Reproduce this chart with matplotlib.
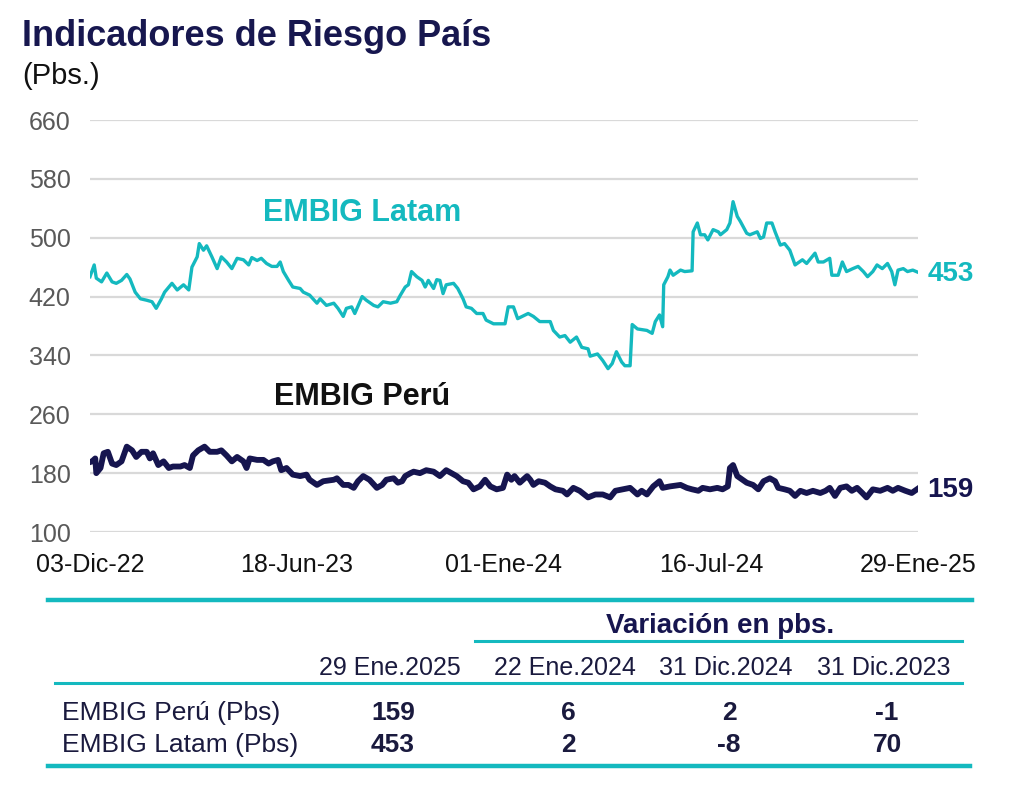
import pandas as pd
import matplotlib
matplotlib.use('Agg')
import matplotlib.pyplot as plt
from matplotlib.lines import Line2D

TEAL = '#14B9BF'
NAVY = '#16154F'
GRID = '#d9d9d9'
NARROW = ['Liberation Sans Narrow', 'DejaVu Sans Condensed', 'Liberation Sans']
REGULAR = ['Liberation Sans', 'DejaVu Sans']

# EMBIG Latam (pbs)
latam_dates = ['2022-12-03', '2022-12-07', '2022-12-09', '2022-12-14', '2022-12-19', '2022-12-24',
               '2022-12-28', '2023-01-02', '2023-01-07', '2023-01-10', '2023-01-15', '2023-01-20',
               '2023-01-26', '2023-01-31', '2023-02-04', '2023-02-09', '2023-02-12', '2023-02-19',
               '2023-02-24', '2023-03-02', '2023-03-07', '2023-03-10', '2023-03-15', '2023-03-17',
               '2023-03-21', '2023-03-24', '2023-03-29', '2023-04-03', '2023-04-07', '2023-04-12',
               '2023-04-17', '2023-04-22', '2023-04-28', '2023-05-03', '2023-05-06', '2023-05-11',
               '2023-05-15', '2023-05-20', '2023-05-25', '2023-05-30', '2023-06-02', '2023-06-05',
               '2023-06-10', '2023-06-14', '2023-06-21', '2023-06-24', '2023-06-30', '2023-07-07',
               '2023-07-10', '2023-07-16', '2023-07-23', '2023-07-27', '2023-08-01', '2023-08-04',
               '2023-08-09', '2023-08-12', '2023-08-19', '2023-08-23', '2023-08-30', '2023-09-03',
               '2023-09-08', '2023-09-15', '2023-09-21', '2023-09-24', '2023-09-29', '2023-10-02',
               '2023-10-05', '2023-10-10', '2023-10-15', '2023-10-18', '2023-10-21', '2023-10-26',
               '2023-10-29', '2023-11-01', '2023-11-04', '2023-11-07', '2023-11-14', '2023-11-18',
               '2023-11-23', '2023-11-26', '2023-12-01', '2023-12-06', '2023-12-12', '2023-12-15',
               '2023-12-22', '2023-12-28', '2024-01-02', '2024-01-05', '2024-01-10', '2024-01-14',
               '2024-01-24', '2024-01-29', '2024-02-04', '2024-02-14', '2024-02-17', '2024-02-23',
               '2024-02-28', '2024-03-04', '2024-03-10', '2024-03-15', '2024-03-21', '2024-03-23',
               '2024-03-30', '2024-04-04', '2024-04-09', '2024-04-13', '2024-04-17', '2024-04-22',
               '2024-04-25', '2024-04-30', '2024-05-02', '2024-05-07', '2024-05-16', '2024-05-21',
               '2024-05-24', '2024-05-28', '2024-05-31', '2024-06-01', '2024-06-05', '2024-06-07',
               '2024-06-10', '2024-06-17', '2024-06-21', '2024-06-28', '2024-06-29', '2024-07-03',
               '2024-07-06', '2024-07-10', '2024-07-13', '2024-07-18', '2024-07-23', '2024-07-25',
               '2024-07-31', '2024-08-03', '2024-08-06', '2024-08-10', '2024-08-13', '2024-08-19',
               '2024-08-22', '2024-08-29', '2024-09-01', '2024-09-04', '2024-09-07', '2024-09-12',
               '2024-09-15', '2024-09-20', '2024-09-24', '2024-09-29', '2024-10-04', '2024-10-11',
               '2024-10-15', '2024-10-23', '2024-10-26', '2024-10-31', '2024-11-06', '2024-11-08',
               '2024-11-14', '2024-11-18', '2024-11-22', '2024-11-28', '2024-12-03', '2024-12-08',
               '2024-12-12', '2024-12-17', '2024-12-21', '2024-12-26', '2024-12-31', '2025-01-04',
               '2025-01-07', '2025-01-10', '2025-01-15', '2025-01-19', '2025-01-24', '2025-01-29']
latam_vals = [447, 463, 445, 440, 452, 440,
              438, 442, 450, 444, 426, 417,
              415, 413, 404, 417, 426, 438,
              429, 436, 429, 460, 474, 492,
              483, 489, 474, 458, 474, 467,
              458, 472, 470, 463, 473, 469,
              472, 465, 461, 461, 467, 454,
              442, 433, 431, 426, 422, 411,
              417, 408, 411, 404, 393, 404,
              406, 397, 420, 415, 408, 406,
              413, 411, 413, 421, 433, 436,
              454, 447, 442, 433, 442, 431,
              443, 442, 424, 436, 438, 431,
              417, 406, 404, 397, 397, 388,
              383, 383, 383, 406, 406, 390,
              397, 393, 386, 386, 374, 365,
              367, 358, 365, 351, 349, 339,
              342, 333, 322, 329, 345, 331,
              326, 326, 382, 376, 374, 370,
              386, 395, 379, 436, 447, 456,
              449, 456, 454, 455, 508, 520,
              504, 504, 497, 511, 508, 504,
              511, 520, 549, 529, 522, 506,
              504, 508, 499, 501, 520, 520,
              508, 490, 492, 483, 463, 470,
              465, 479, 467, 467, 472, 449,
              449, 467, 454, 458, 461, 454,
              447, 454, 463, 458, 465, 454,
              436, 456, 458, 454, 456, 453]

# EMBIG Perú (pbs)
peru_dates = ['2022-12-03', '2022-12-05', '2022-12-08', '2022-12-09', '2022-12-13', '2022-12-16',
              '2022-12-20', '2022-12-24', '2022-12-28', '2023-01-02', '2023-01-07', '2023-01-12',
              '2023-01-16', '2023-01-21', '2023-01-26', '2023-01-29', '2023-02-01', '2023-02-06',
              '2023-02-11', '2023-02-16', '2023-02-20', '2023-02-27', '2023-03-03', '2023-03-08',
              '2023-03-11', '2023-03-16', '2023-03-22', '2023-03-27', '2023-04-03', '2023-04-07',
              '2023-04-12', '2023-04-17', '2023-04-22', '2023-04-28', '2023-05-01', '2023-05-04',
              '2023-05-11', '2023-05-17', '2023-05-22', '2023-05-26', '2023-05-31', '2023-06-03',
              '2023-06-08', '2023-06-14', '2023-06-21', '2023-06-27', '2023-06-30', '2023-07-07',
              '2023-07-13', '2023-07-23', '2023-07-26', '2023-08-01', '2023-08-06', '2023-08-11',
              '2023-08-15', '2023-08-20', '2023-08-26', '2023-09-02', '2023-09-07', '2023-09-11',
              '2023-09-18', '2023-09-22', '2023-09-26', '2023-09-29', '2023-10-04', '2023-10-07',
              '2023-10-13', '2023-10-19', '2023-10-26', '2023-11-01', '2023-11-07', '2023-11-12',
              '2023-11-17', '2023-11-23', '2023-11-28', '2023-12-03', '2023-12-09', '2023-12-14',
              '2023-12-19', '2023-12-25', '2023-12-31', '2024-01-04', '2024-01-08', '2024-01-11',
              '2024-01-16', '2024-01-23', '2024-01-26', '2024-01-29', '2024-02-03', '2024-02-09',
              '2024-02-14', '2024-02-19', '2024-02-26', '2024-03-01', '2024-03-07', '2024-03-13',
              '2024-03-21', '2024-03-28', '2024-04-04', '2024-04-11', '2024-04-16', '2024-04-23',
              '2024-04-30', '2024-05-07', '2024-05-11', '2024-05-16', '2024-05-22', '2024-05-28',
              '2024-05-31', '2024-06-07', '2024-06-17', '2024-06-23', '2024-06-28', '2024-07-04',
              '2024-07-08', '2024-07-15', '2024-07-22', '2024-07-27', '2024-08-01', '2024-08-03',
              '2024-08-06', '2024-08-10', '2024-08-15', '2024-08-19', '2024-08-25', '2024-08-30',
              '2024-09-04', '2024-09-10', '2024-09-15', '2024-09-18', '2024-09-24', '2024-09-29',
              '2024-10-04', '2024-10-09', '2024-10-15', '2024-10-21', '2024-10-28', '2024-11-02',
              '2024-11-06', '2024-11-11', '2024-11-16', '2024-11-22', '2024-11-27', '2024-12-02',
              '2024-12-07', '2024-12-11', '2024-12-17', '2024-12-24', '2024-12-31', '2025-01-05',
              '2025-01-10', '2025-01-17', '2025-01-23', '2025-01-29']
peru_vals = [195, 196, 200, 180, 187, 207,
             209, 193, 191, 196, 216, 211,
             202, 209, 209, 200, 207, 191,
             196, 187, 189, 189, 191, 187,
             204, 211, 216, 209, 209, 211,
             204, 196, 202, 196, 187, 200,
             198, 198, 193, 196, 198, 184,
             187, 178, 176, 178, 171, 164,
             169, 171, 173, 164, 164, 160,
             169, 176, 171, 160, 164, 171,
             173, 167, 169, 176, 180, 182,
             180, 184, 182, 176, 184, 180,
             176, 169, 167, 158, 162, 171,
             162, 158, 160, 178, 171, 176,
             167, 176, 171, 164, 169, 167,
             162, 158, 156, 151, 160, 156,
             147, 151, 151, 147, 156, 158,
             160, 151, 156, 151, 162, 169,
             160, 162, 164, 160, 158, 156,
             160, 158, 160, 158, 162, 187,
             191, 176, 171, 167, 164, 158,
             169, 173, 169, 160, 158, 156,
             149, 156, 153, 156, 153, 156,
             160, 149, 160, 162, 156, 160,
             153, 147, 158, 156, 160, 156,
             160, 156, 153, 159]

tick_dates = ['2022-12-03', '2023-06-18', '2024-01-01', '2024-07-16', '2025-01-29']
tick_labels = ['03-Dic-22', '18-Jun-23', '01-Ene-24', '16-Jul-24', '29-Ene-25']
y_ticks = [100, 180, 260, 340, 420, 500, 580, 660]

# table under the chart
table_cols = ['29 Ene.2025', '22 Ene.2024', '31 Dic.2024', '31 Dic.2023']
table_rows = ['EMBIG Perú (Pbs)', 'EMBIG Latam (Pbs)']
peru_row = [159, 6, 2, -1]
latam_row = [453, 2, -8, 70]


def main():
    W, H = 1023, 794
    fig = plt.figure(figsize=(W / 100, H / 100), dpi=100)

    ax = fig.add_axes([90 / W, 1 - 532 / H, 828 / W, 412 / H])
    lat_x = pd.to_datetime(latam_dates)
    per_x = pd.to_datetime(peru_dates)
    ax.plot(lat_x, latam_vals, color=TEAL, lw=2.4, solid_joinstyle='round', zorder=3)
    ax.plot(per_x, peru_vals, color=NAVY, lw=4.2, solid_joinstyle='round', zorder=3)

    ax.set_xlim(pd.Timestamp(tick_dates[0]), pd.Timestamp(tick_dates[-1]))
    ax.set_ylim(y_ticks[0], y_ticks[-1])
    ax.set_yticks(y_ticks)
    ax.set_xticks(pd.to_datetime(tick_dates))
    ax.set_xticklabels(tick_labels, family=NARROW, fontsize=18, color='#111111')
    for lab in ax.get_yticklabels():
        lab.set_family(REGULAR)
        lab.set_fontsize(18)
        lab.set_color('#595959')
    ax.tick_params(axis='x', length=0, pad=15)
    ax.tick_params(axis='y', length=0, pad=14)
    ax.grid(axis='y', color=GRID, lw=1.6)
    ax.set_axisbelow(True)
    for s in ax.spines.values():
        s.set_visible(False)

    ax.text(0.3285, 0.774, 'EMBIG Latam', transform=ax.transAxes, ha='center', va='center',
            fontsize=22, fontweight='bold', color=TEAL, family=REGULAR)
    ax.text(0.3285, 0.328, 'EMBIG Perú', transform=ax.transAxes, ha='center', va='center',
            fontsize=22, fontweight='bold', color='#111111', family=REGULAR)

    ax.annotate(str(latam_vals[-1]), (lat_x[-1], latam_vals[-1]), xytext=(7, -1),
                textcoords='offset points', va='center', ha='left', fontsize=20,
                fontweight='bold', color=TEAL, family=REGULAR, annotation_clip=False)
    ax.annotate(str(peru_vals[-1]), (per_x[-1], peru_vals[-1]), xytext=(7, -1),
                textcoords='offset points', va='center', ha='left', fontsize=20,
                fontweight='bold', color=NAVY, family=REGULAR, annotation_clip=False)

    # overlay in pixel units for title and table
    ov = fig.add_axes([0, 0, 1, 1])
    ov.set_xlim(0, W)
    ov.set_ylim(H, 0)
    ov.axis('off')
    ov.patch.set_alpha(0)

    ov.text(22, 46, 'Indicadores de Riesgo País', fontsize=26, fontweight='bold',
            color='#17174F', family=REGULAR, va='baseline')
    ov.text(22, 84, '(Pbs.)', fontsize=21, color='#111111', family=REGULAR, va='baseline')

    ov.add_line(Line2D([48, 972], [600, 600], color=TEAL, lw=3.2))
    ov.text(720, 626, 'Variación en pbs.', ha='center', va='center', fontsize=20,
            fontweight='bold', color=NAVY, family=NARROW)
    ov.add_line(Line2D([475, 962], [641, 641], color=TEAL, lw=2.2))

    col_x = [390, 565, 726, 884]
    for cx, lab in zip(col_x, table_cols):
        ov.text(cx, 668, lab, ha='center', va='center', fontsize=18, color='#1a1a3e', family=NARROW)
    ov.add_line(Line2D([55, 962], [683, 683], color=TEAL, lw=2.2))

    for ry, name, row in zip([713, 745], table_rows, [peru_row, latam_row]):
        ov.text(62, ry, name, ha='left', va='center', fontsize=19, color='#1a1a3e', family=NARROW)
        for cx, v in zip(col_x, row):
            ov.text(cx + 3, ry, str(v), ha='center', va='center', fontsize=19,
                    fontweight='bold', color='#1a1a3e', family=NARROW)
    ov.add_line(Line2D([48, 970], [766, 766], color=TEAL, lw=3.2))

    fig.savefig('out.png', dpi=100)


if __name__ == '__main__':
    main()
